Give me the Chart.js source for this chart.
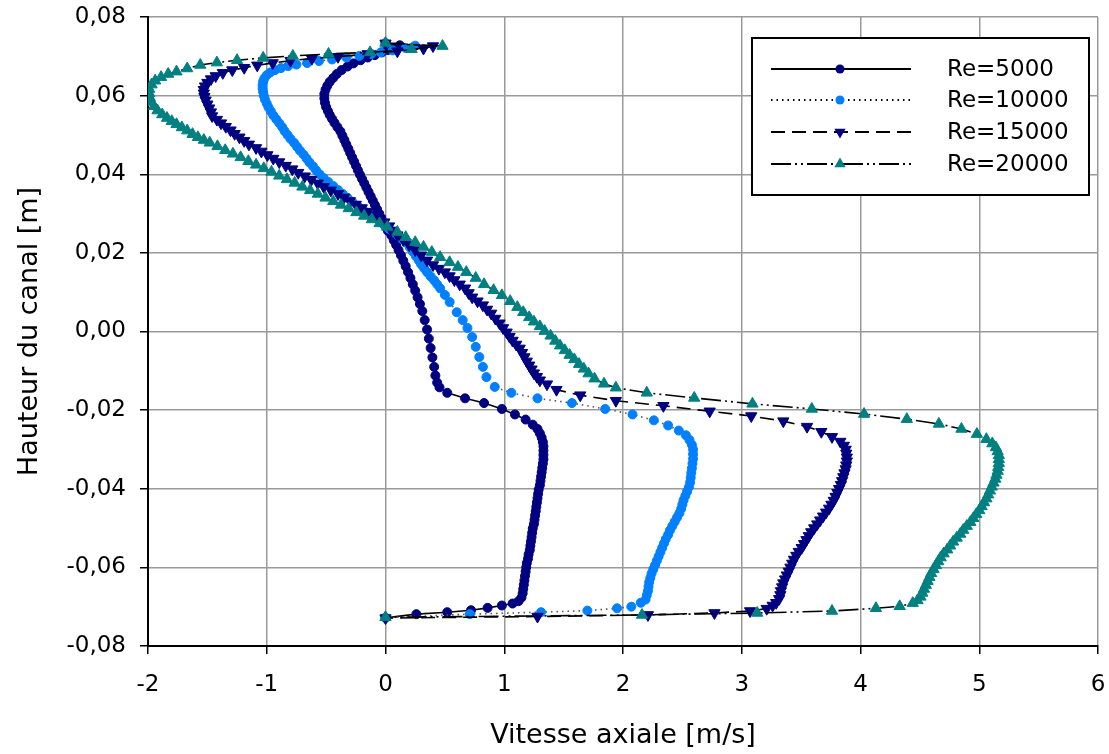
<!DOCTYPE html>
<html lang="fr">
<head>
<meta charset="UTF-8">
<title>Vitesse axiale</title>
<script src="https://cdn.jsdelivr.net/npm/chart.js@4.4.1/dist/chart.umd.min.js"></script>
<style>
  body { margin: 0; background: #fff; }
  canvas { display: block; }
</style>
</head>
<body>
<canvas id="myChart" width="1109" height="754"></canvas>
<script>
// [vitesse axiale m/s, hauteur m], du haut du canal vers le bas
const re5000 = [[0.00,0.0733],[0.12,0.0728],[0.08,0.0722],[0.02,0.0716],[-0.03,0.0710],[-0.09,0.0703],[-0.15,0.0697],[-0.21,0.0690],[-0.27,0.0682],[-0.32,0.0674],[-0.37,0.0665],[-0.41,0.0655],[-0.44,0.0645],[-0.47,0.0635],[-0.49,0.0625],[-0.505,0.0615],[-0.515,0.0604],[-0.515,0.0593],[-0.51,0.0582],[-0.50,0.0571],[-0.485,0.0561],[-0.47,0.0551],[-0.45,0.0541],[-0.43,0.0531],[-0.405,0.0520],[-0.38,0.0509],[-0.363,0.0498],[-0.346,0.0487],[-0.33,0.0476],[-0.313,0.0465],[-0.297,0.0454],[-0.281,0.0443],[-0.264,0.0432],[-0.248,0.0421],[-0.232,0.0410],[-0.215,0.0399],[-0.197,0.0388],[-0.179,0.0377],[-0.161,0.0366],[-0.143,0.0355],[-0.125,0.0344],[-0.107,0.0333],[-0.089,0.0322],[-0.071,0.0311],[-0.053,0.0300],[-0.036,0.0289],[-0.018,0.0278],[0.00,0.0267],[0.02,0.0256],[0.05,0.0244],[0.07,0.0232],[0.09,0.0220],[0.11,0.0207],[0.13,0.0194],[0.15,0.0180],[0.17,0.0166],[0.19,0.0151],[0.21,0.0136],[0.23,0.0120],[0.25,0.0104],[0.27,0.0087],[0.29,0.0070],[0.31,0.0052],[0.33,0.0029],[0.35,0.0005],[0.365,-0.0018],[0.38,-0.0042],[0.395,-0.0066],[0.41,-0.0090],[0.42,-0.0112],[0.435,-0.0130],[0.455,-0.0142],[0.52,-0.0156],[0.67,-0.0170],[0.83,-0.0182],[0.98,-0.0197],[1.09,-0.0211],[1.18,-0.0224],[1.24,-0.0237],[1.28,-0.0248],[1.30,-0.0259],[1.315,-0.0270],[1.325,-0.0281],[1.33,-0.0292],[1.33,-0.0303],[1.33,-0.0314],[1.33,-0.0325],[1.325,-0.0336],[1.32,-0.0347],[1.315,-0.0358],[1.31,-0.0369],[1.305,-0.0380],[1.30,-0.0391],[1.29,-0.0402],[1.285,-0.0413],[1.28,-0.0424],[1.275,-0.0435],[1.27,-0.0446],[1.265,-0.0457],[1.26,-0.0468],[1.255,-0.0479],[1.25,-0.0490],[1.24,-0.0501],[1.235,-0.0512],[1.23,-0.0523],[1.225,-0.0534],[1.22,-0.0545],[1.215,-0.0556],[1.205,-0.0567],[1.20,-0.0578],[1.19,-0.0589],[1.185,-0.0600],[1.18,-0.0611],[1.175,-0.0622],[1.17,-0.0633],[1.165,-0.0644],[1.16,-0.0655],[1.155,-0.0666],[1.145,-0.0677],[1.12,-0.0686],[1.07,-0.0692],[0.98,-0.0697],[0.86,-0.0703],[0.72,-0.0709],[0.52,-0.0714],[0.26,-0.0719],[0.00,-0.0728]];

const re10000 = [[0.00,0.0733],[0.25,0.0727],[0.17,0.0721],[0.06,0.0715],[-0.04,0.0710],[-0.12,0.0706],[-0.22,0.0701],[-0.33,0.0697],[-0.45,0.0692],[-0.56,0.0688],[-0.66,0.0683],[-0.75,0.0679],[-0.82,0.0675],[-0.88,0.0670],[-0.93,0.0665],[-0.97,0.0659],[-1.00,0.0652],[-1.02,0.0644],[-1.03,0.0636],[-1.035,0.0627],[-1.035,0.0618],[-1.03,0.0609],[-1.025,0.0600],[-1.015,0.0590],[-1.00,0.0580],[-0.985,0.0570],[-0.965,0.0560],[-0.945,0.0550],[-0.92,0.0540],[-0.895,0.0530],[-0.87,0.0520],[-0.85,0.0510],[-0.825,0.0500],[-0.80,0.0490],[-0.77,0.0480],[-0.745,0.0470],[-0.72,0.0460],[-0.69,0.0450],[-0.665,0.0440],[-0.64,0.0430],[-0.61,0.0420],[-0.585,0.0410],[-0.555,0.0400],[-0.52,0.0390],[-0.48,0.0380],[-0.44,0.0370],[-0.40,0.0360],[-0.36,0.0350],[-0.32,0.0340],[-0.28,0.0330],[-0.235,0.0320],[-0.19,0.0310],[-0.145,0.0300],[-0.10,0.0290],[-0.05,0.0280],[-0.01,0.0270],[0.03,0.0261],[0.07,0.0252],[0.11,0.0243],[0.145,0.0234],[0.18,0.0225],[0.205,0.0214],[0.23,0.0203],[0.255,0.0192],[0.28,0.0181],[0.30,0.0171],[0.325,0.0161],[0.35,0.0151],[0.38,0.0140],[0.41,0.0130],[0.435,0.0120],[0.46,0.0110],[0.50,0.0093],[0.54,0.0075],[0.60,0.0049],[0.65,0.0029],[0.69,0.0009],[0.73,-0.0014],[0.76,-0.0039],[0.79,-0.0065],[0.82,-0.0090],[0.85,-0.0116],[0.92,-0.0141],[1.06,-0.0156],[1.28,-0.0170],[1.57,-0.0182],[1.85,-0.0197],[2.08,-0.0211],[2.26,-0.0226],[2.38,-0.0239],[2.47,-0.0252],[2.53,-0.0264],[2.56,-0.0276],[2.58,-0.0288],[2.59,-0.0300],[2.59,-0.0312],[2.59,-0.0324],[2.585,-0.0336],[2.58,-0.0348],[2.575,-0.0360],[2.57,-0.0372],[2.565,-0.0384],[2.555,-0.0396],[2.54,-0.0407],[2.525,-0.0418],[2.51,-0.0429],[2.50,-0.0440],[2.49,-0.0451],[2.475,-0.0462],[2.455,-0.0473],[2.435,-0.0484],[2.415,-0.0495],[2.395,-0.0506],[2.38,-0.0517],[2.36,-0.0528],[2.345,-0.0539],[2.33,-0.0550],[2.315,-0.0561],[2.30,-0.0572],[2.285,-0.0583],[2.27,-0.0594],[2.255,-0.0605],[2.24,-0.0616],[2.23,-0.0627],[2.22,-0.0638],[2.215,-0.0649],[2.21,-0.0660],[2.20,-0.0671],[2.19,-0.0682],[2.15,-0.0690],[2.07,-0.0700],[1.95,-0.0704],[1.70,-0.0710],[1.31,-0.0714],[0.71,-0.0719],[0.00,-0.0728]];

const re15000 = [[0.00,0.0733],[0.40,0.0726],[0.32,0.0720],[0.10,0.0713],[-0.15,0.0706],[-0.40,0.0699],[-0.62,0.0694],[-0.80,0.0689],[-0.95,0.0683],[-1.08,0.0677],[-1.19,0.0671],[-1.29,0.0665],[-1.37,0.0658],[-1.43,0.0650],[-1.47,0.0642],[-1.50,0.0633],[-1.52,0.0624],[-1.53,0.0615],[-1.53,0.0606],[-1.525,0.0597],[-1.515,0.0588],[-1.50,0.0578],[-1.485,0.0568],[-1.47,0.0558],[-1.46,0.0548],[-1.42,0.0539],[-1.385,0.0530],[-1.345,0.0521],[-1.305,0.0512],[-1.27,0.0503],[-1.23,0.0494],[-1.19,0.0485],[-1.15,0.0476],[-1.09,0.0467],[-1.045,0.0458],[-0.995,0.0449],[-0.945,0.0440],[-0.895,0.0431],[-0.84,0.0422],[-0.785,0.0413],[-0.735,0.0404],[-0.68,0.0395],[-0.625,0.0386],[-0.57,0.0377],[-0.52,0.0368],[-0.46,0.0359],[-0.40,0.0350],[-0.35,0.0341],[-0.30,0.0332],[-0.25,0.0323],[-0.20,0.0314],[-0.15,0.0305],[-0.10,0.0296],[-0.05,0.0287],[-0.01,0.0278],[0.03,0.0268],[0.05,0.0257],[0.10,0.0245],[0.15,0.0233],[0.20,0.0220],[0.25,0.0207],[0.30,0.0194],[0.35,0.0181],[0.40,0.0169],[0.45,0.0160],[0.50,0.0151],[0.54,0.0141],[0.58,0.0131],[0.625,0.0120],[0.67,0.0110],[0.70,0.0098],[0.73,0.0087],[0.775,0.0077],[0.82,0.0067],[0.855,0.0056],[0.89,0.0046],[0.925,0.0033],[0.96,0.0021],[0.99,0.0009],[1.02,-0.0002],[1.045,-0.0013],[1.07,-0.0023],[1.10,-0.0033],[1.13,-0.0043],[1.15,-0.0054],[1.17,-0.0065],[1.19,-0.0076],[1.21,-0.0086],[1.23,-0.0096],[1.25,-0.0106],[1.275,-0.0115],[1.30,-0.0124],[1.36,-0.0134],[1.44,-0.0148],[1.64,-0.0162],[1.94,-0.0176],[2.34,-0.0189],[2.73,-0.0203],[3.08,-0.0215],[3.35,-0.0228],[3.55,-0.0242],[3.67,-0.0255],[3.76,-0.0268],[3.83,-0.0280],[3.86,-0.0290],[3.875,-0.0300],[3.88,-0.0310],[3.885,-0.0320],[3.885,-0.0330],[3.88,-0.0340],[3.875,-0.0350],[3.865,-0.0360],[3.855,-0.0370],[3.845,-0.0380],[3.835,-0.0390],[3.82,-0.0400],[3.805,-0.0410],[3.79,-0.0420],[3.775,-0.0430],[3.755,-0.0440],[3.735,-0.0450],[3.71,-0.0460],[3.685,-0.0470],[3.66,-0.0480],[3.635,-0.0490],[3.61,-0.0500],[3.585,-0.0510],[3.565,-0.0520],[3.545,-0.0530],[3.525,-0.0540],[3.505,-0.0550],[3.48,-0.0560],[3.46,-0.0570],[3.44,-0.0580],[3.425,-0.0590],[3.41,-0.0600],[3.395,-0.0610],[3.38,-0.0620],[3.365,-0.0630],[3.35,-0.0640],[3.34,-0.0650],[3.33,-0.0660],[3.325,-0.0670],[3.315,-0.0680],[3.29,-0.0690],[3.26,-0.0697],[3.21,-0.0705],[3.07,-0.0711],[2.77,-0.0716],[2.21,-0.0721],[1.28,-0.0725],[0.00,-0.0729]];

const re20000 = [[0.00,0.0734],[0.48,0.0726],[0.22,0.0718],[-0.13,0.0710],[-0.48,0.0706],[-0.78,0.0701],[-1.03,0.0696],[-1.25,0.0690],[-1.42,0.0684],[-1.56,0.0678],[-1.67,0.0669],[-1.76,0.0661],[-1.83,0.0655],[-1.89,0.0647],[-1.94,0.0638],[-1.97,0.0628],[-1.99,0.0617],[-1.99,0.0606],[-1.985,0.0595],[-1.97,0.0584],[-1.95,0.0573],[-1.92,0.0562],[-1.88,0.0552],[-1.84,0.0543],[-1.80,0.0535],[-1.76,0.0527],[-1.715,0.0519],[-1.67,0.0511],[-1.625,0.0502],[-1.58,0.0494],[-1.53,0.0487],[-1.48,0.0480],[-1.415,0.0471],[-1.35,0.0461],[-1.285,0.0452],[-1.22,0.0443],[-1.155,0.0433],[-1.09,0.0424],[-1.025,0.0415],[-0.96,0.0406],[-0.895,0.0396],[-0.83,0.0387],[-0.765,0.0378],[-0.70,0.0368],[-0.635,0.0359],[-0.57,0.0350],[-0.505,0.0340],[-0.44,0.0331],[-0.375,0.0322],[-0.31,0.0313],[-0.245,0.0303],[-0.18,0.0294],[-0.115,0.0285],[-0.05,0.0275],[0.015,0.0266],[0.10,0.0253],[0.17,0.0240],[0.25,0.0227],[0.32,0.0215],[0.39,0.0202],[0.46,0.0189],[0.54,0.0176],[0.61,0.0164],[0.68,0.0151],[0.76,0.0136],[0.83,0.0120],[0.91,0.0105],[0.98,0.0092],[1.05,0.0077],[1.11,0.0062],[1.16,0.0049],[1.21,0.0036],[1.25,0.0025],[1.30,0.0013],[1.34,0.0001],[1.39,-0.0011],[1.43,-0.0024],[1.47,-0.0036],[1.51,-0.0048],[1.55,-0.0060],[1.59,-0.0071],[1.63,-0.0083],[1.67,-0.0095],[1.71,-0.0107],[1.76,-0.0120],[1.84,-0.0133],[1.94,-0.0143],[2.20,-0.0156],[2.60,-0.0169],[3.09,-0.0184],[3.59,-0.0197],[4.03,-0.0210],[4.39,-0.0223],[4.66,-0.0235],[4.85,-0.0248],[4.98,-0.0261],[5.06,-0.0274],[5.11,-0.0285],[5.14,-0.0295],[5.155,-0.0305],[5.165,-0.0315],[5.165,-0.0325],[5.165,-0.0335],[5.16,-0.0345],[5.155,-0.0355],[5.145,-0.0365],[5.135,-0.0375],[5.12,-0.0385],[5.105,-0.0395],[5.09,-0.0405],[5.075,-0.0415],[5.06,-0.0425],[5.04,-0.0435],[5.02,-0.0445],[5.00,-0.0455],[4.975,-0.0465],[4.95,-0.0475],[4.925,-0.0485],[4.895,-0.0495],[4.865,-0.0505],[4.84,-0.0515],[4.81,-0.0525],[4.78,-0.0535],[4.755,-0.0545],[4.73,-0.0555],[4.70,-0.0565],[4.675,-0.0575],[4.655,-0.0585],[4.635,-0.0595],[4.615,-0.0605],[4.595,-0.0615],[4.58,-0.0625],[4.565,-0.0635],[4.55,-0.0645],[4.535,-0.0655],[4.52,-0.0665],[4.505,-0.0675],[4.48,-0.0684],[4.44,-0.0691],[4.33,-0.0699],[4.13,-0.0704],[3.76,-0.0711],[3.13,-0.0716],[2.16,-0.0721],[0.00,-0.0727]];

const labels = ['Re=5000', 'Re=10000', 'Re=15000', 'Re=20000'];
const series = [re5000, re10000, re15000, re20000];

const FONT = 'DejaVu Sans';
Chart.defaults.font.family = FONT;
Chart.defaults.color = '#000';

// styles Excel : couleur du marqueur, forme, pointillé de la ligne
const styles = [
  { color: '#000080', shape: 'circle', radius: 5, rot: 0, dash: [] },
  { color: '#0080ff', shape: 'circle', radius: 5, rot: 0, dash: [1.5, 4] },
  { color: '#000080', shape: 'triangle', radius: 6.5, rot: 180, dash: [14, 7] },
  { color: '#008080', shape: 'triangle', radius: 6.5, rot: 0, dash: [20, 4, 2, 4, 2, 4] }
];

function fmt(v) {
  if (Math.abs(v) < 1e-9) return '0,00';
  return v.toFixed(2).replace('.', ',');
}

function drawMarker(ctx, st, x, y) {
  ctx.fillStyle = st.color;
  ctx.beginPath();
  if (st.shape === 'circle') {
    ctx.arc(x, y, st.radius - 0.5, 0, Math.PI * 2);
  } else {
    let a = st.rot * Math.PI / 180;
    for (let k = 0; k < 3; k++) {
      const px = x + Math.sin(a) * st.radius;
      const py = y - Math.cos(a) * st.radius;
      if (k === 0) ctx.moveTo(px, py); else ctx.lineTo(px, py);
      a += Math.PI * 2 / 3;
    }
    ctx.closePath();
  }
  ctx.fill();
}

const boxLegend = {
  id: 'boxLegend',
  afterDraw(chart) {
    const ctx = chart.ctx;
    ctx.save();
    ctx.fillStyle = '#fff';
    ctx.fillRect(752, 38, 337, 157);
    ctx.strokeStyle = '#000';
    ctx.lineWidth = 2;
    ctx.strokeRect(752, 38, 337, 157);
    const rows = [69, 100, 132, 164];
    labels.forEach((lab, i) => {
      const st = styles[i];
      const y = rows[i];
      ctx.strokeStyle = '#000';
      ctx.lineWidth = 1.8;
      ctx.setLineDash(st.dash);
      ctx.beginPath();
      ctx.moveTo(771, y);
      ctx.lineTo(911, y);
      ctx.stroke();
      ctx.setLineDash([]);
      drawMarker(ctx, st, 840, y);
      ctx.fillStyle = '#000';
      ctx.font = '23px "' + FONT + '"';
      ctx.textBaseline = 'middle';
      ctx.textAlign = 'left';
      ctx.fillText(lab, 947, y + 1);
    });
    ctx.restore();
  }
};

const datasets = series.map((pts, i) => {
  const st = styles[i];
  return {
    label: labels[i],
    data: pts.map(p => ({ x: p[0], y: p[1] })),
    showLine: true,
    tension: 0,
    borderColor: i === 1 ? '#555' : '#000',
    borderWidth: 1.6,
    borderDash: st.dash,
    pointStyle: st.shape,
    pointRadius: st.shape === 'circle' ? st.radius - 0.5 : st.radius,
    pointRotation: st.rot,
    pointBackgroundColor: st.color,
    pointBorderColor: st.color,
    pointBorderWidth: 1,
    order: 4 - i
  };
});

new Chart(document.getElementById('myChart'), {
  type: 'scatter',
  data: { datasets: datasets },
  plugins: [boxLegend],
  options: {
    responsive: false,
    animation: false,
    layout: { padding: { top: 17, right: 11, left: 0, bottom: 0 } },
    plugins: { legend: { display: false }, tooltip: { enabled: false } },
    scales: {
      x: {
        type: 'linear', min: -2, max: 6,
        ticks: { stepSize: 1, font: { size: 23 }, padding: 17, maxRotation: 0, color: '#000' },
        grid: { color: '#9a9a9a', lineWidth: 1.5, tickLength: 8, tickColor: '#000', tickWidth: 1.5 },
        border: { color: '#000', width: 2 },
        title: { display: true, text: 'Vitesse axiale [m/s]', font: { size: 27 }, color: '#000', padding: { top: 0, bottom: 2 } },
        afterFit: s => { s.height = 108; s.paddingLeft = 0; s.paddingRight = 0; }
      },
      y: {
        type: 'linear', min: -0.08, max: 0.08,
        ticks: { stepSize: 0.02, font: { size: 23 }, padding: 14, color: '#000', callback: v => fmt(v) },
        grid: { color: '#9a9a9a', lineWidth: 1.5, tickLength: 8, tickColor: '#000', tickWidth: 1.5 },
        border: { color: '#000', width: 2 },
        title: { display: true, text: 'Hauteur du canal [m]', font: { size: 27 }, color: '#000', padding: { top: 14, bottom: 0 } },
        afterFit: s => { s.width = 148; s.paddingTop = 0; s.paddingBottom = 0; }
      }
    }
  }
});
</script>
</body>
</html>
